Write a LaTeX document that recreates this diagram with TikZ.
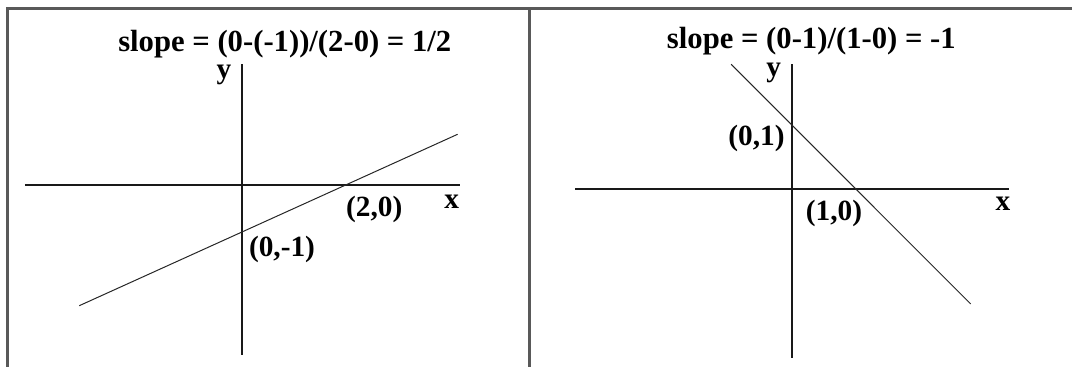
\documentclass[tikz,border=0pt]{standalone}
\usepackage{fontspec}
\setmainfont{Liberation Serif}
\usetikzlibrary{positioning,calc}

\begin{document}
\begin{tikzpicture}[x=0.75pt, y=0.75pt, every node/.style={font=\fontsize{22}{26}\selectfont\bfseries, inner sep=0pt}]
  \tikzset{
      frame/.style={line width=2pt, draw=black!65},
      axis/.style={line width=1.5pt, draw=black!90},
      graphline/.style={line width=0.75pt, draw=black!85},
      slopetitle/.style={anchor=base west, font=\fontsize{23}{27}\selectfont\bfseries}
  }
  \useasboundingbox (0,0) rectangle (1072,367);

  % table frame
  \coordinate (f0) at (7.6,0);
  \coordinate (f1) at (7.6,358.7);
  \coordinate (f2) at (1072,358.7);
  \coordinate (d0) at (529.5,0);
  \coordinate (d1) at (529.5,358.7);
  \draw[frame] (f0) -- (f1) -- (f2);
  \draw[frame] (d0) -- (d1);

  \begin{scope}[shift={(242,182)}]
      \coordinate (xl) at (-217.2,0);
      \coordinate (xr) at (217.7,0);
      \coordinate (yt) at (0,120.7);
      \coordinate (yb) at (0,-170);
      \coordinate (ls) at (-162.7,-120.7);
      \coordinate (le) at (215.6,50.7);
      \draw[axis] (xl) -- (xr);
      \draw[axis] (yt) -- (yb);
      \draw[graphline] (ls) -- (le);
      \node[slopetitle] (t1) at (-124,133.3) {slope = (0-(-1))/(2-0) = 1/2};
      \node (ly1) at (-18,110) {y};
      \node (lx1) at (209.7,-16.7) {x};
      \node (p20) at (132.2,-24) {(2,0)};
      \node (p0m1) at (40,-64) {(0,-1)};
  \end{scope}

  \begin{scope}[shift={(792,177.7)}]
      \coordinate (xl_2) at (-217,0);
      \coordinate (xr_2) at (216.7,0);
      \coordinate (yt_2) at (0,125);
      \coordinate (yb_2) at (0,-169);
      \coordinate (ls_2) at (-60.8,125);
      \coordinate (le_2) at (178.7,-114.7);
      \draw[axis] (xl_2) -- (xr_2);
      \draw[axis] (yt_2) -- (yb_2);
      \draw[graphline] (ls_2) -- (le_2);
      \node[slopetitle] (t2) at (-125.3,141) {slope = (0-1)/(1-0) = -1};
      \node (ly2) at (-18.3,116) {y};
      \node (lx2) at (210.9,-14) {x};
      \node (p01) at (-35.5,51.3) {(0,1)};
      \node (p10) at (42,-24.2) {(1,0)};
  \end{scope}
\end{tikzpicture}
\end{document}
